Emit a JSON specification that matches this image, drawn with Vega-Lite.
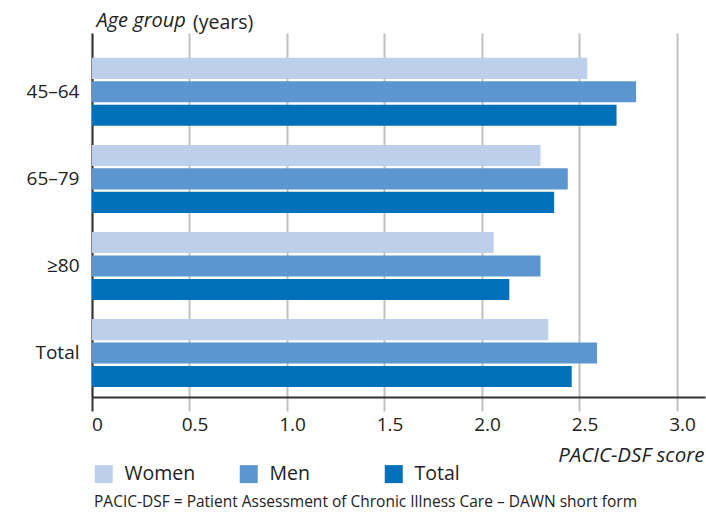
{
  "$schema": "https://vega.github.io/schema/vega-lite/v6.json",
  "width": 613,
  "height": 364,
  "autosize": {"type": "none"},
  "padding": {"left": 92, "top": 33, "right": 1, "bottom": 115},
  "background": "white",
  "title": {
    "text": "(years)",
    "anchor": "start",
    "frame": "group",
    "orient": "top",
    "dx": 101,
    "dy": 38,
    "baseline": "alphabetic",
    "fontSize": 19.5,
    "fontWeight": "normal",
    "fontStyle": "normal",
    "color": "#222222",
    "offset": 0
  },
  "config": {
    "font": "Open Sans",
    "view": {"stroke": null}
  },
  "data": {
    "values": [
      {"age": "45–64", "sex": "Women", "score": 2.54},
      {"age": "45–64", "sex": "Men", "score": 2.79},
      {"age": "45–64", "sex": "Total", "score": 2.69},
      {"age": "65–79", "sex": "Women", "score": 2.30},
      {"age": "65–79", "sex": "Men", "score": 2.44},
      {"age": "65–79", "sex": "Total", "score": 2.37},
      {"age": "≥80", "sex": "Women", "score": 2.06},
      {"age": "≥80", "sex": "Men", "score": 2.30},
      {"age": "≥80", "sex": "Total", "score": 2.14},
      {"age": "Total", "sex": "Women", "score": 2.34},
      {"age": "Total", "sex": "Men", "score": 2.59},
      {"age": "Total", "sex": "Total", "score": 2.46}
    ]
  },
  "mark": {"type": "bar"},
  "encoding": {
    "y": {
      "field": "age",
      "type": "nominal",
      "sort": ["45–64", "65–79", "≥80", "Total"],
      "scale": {"paddingInner": 0.22, "paddingOuter": 0.2, "align": 0.714},
      "axis": {
        "title": "Age group",
        "titleAngle": 0,
        "titleX": 4,
        "titleY": -7,
        "titleAlign": "left",
        "titleBaseline": "alphabetic",
        "titleFontSize": 20,
        "titleFontStyle": "italic",
        "titleFontWeight": "normal",
        "titleColor": "#222222",
        "ticks": false,
        "labelPadding": 13,
        "labelFontSize": 19,
        "labelColor": "#222222",
        "domainColor": "#333333",
        "domainWidth": 2,
        "grid": false
      }
    },
    "yOffset": {
      "field": "sex",
      "type": "nominal",
      "sort": ["Women", "Men", "Total"],
      "scale": {"paddingInner": 0.1, "paddingOuter": 0}
    },
    "x": {
      "field": "score",
      "type": "quantitative",
      "scale": {"domain": [0, 3.1436], "nice": false, "zero": true},
      "axis": {
        "title": "PACIC-DSF score",
        "titleX": 612,
        "titleY": 64,
        "titleAlign": "right",
        "titleBaseline": "alphabetic",
        "titleFontSize": 20.5,
        "titleFontStyle": "italic",
        "titleFontWeight": "normal",
        "titleColor": "#222222",
        "values": [0, 0.5, 1, 1.5, 2, 2.5, 3],
        "labelExpr": "datum.value == 0 ? '0' : format(datum.value, '.1f')",
        "labelFlush": false,
        "labelOffset": 5,
        "labelFontSize": 19,
        "labelColor": "#222222",
        "labelPadding": 4,
        "tickSize": 14,
        "tickWidth": 2,
        "tickColor": {"condition": {"test": "datum.value == 0", "value": "#333333"}, "value": "#c0c0c0"},
        "grid": true,
        "gridColor": "#c0c0c0",
        "gridWidth": 2,
        "domainColor": "#333333",
        "domainWidth": 2
      }
    },
    "color": {
      "field": "sex",
      "type": "nominal",
      "sort": ["Women", "Men", "Total"],
      "scale": {"domain": ["Women", "Men", "Total"], "range": ["#bdd0eb", "#5c96d0", "#0070ba"]},
      "legend": {
        "orient": "none",
        "legendX": 2,
        "legendY": 431,
        "direction": "horizontal",
        "columns": 3,
        "gridAlign": "all",
        "columnPadding": 43,
        "symbolType": "square",
        "symbolSize": 324,
        "symbolStrokeWidth": 0,
        "labelFontSize": 19.5,
        "labelColor": "#222222",
        "labelOffset": 11,
        "title": "PACIC-DSF = Patient Assessment of Chronic Illness Care – DAWN short form",
        "titleOrient": "bottom",
        "titleAnchor": "start",
        "titleFontSize": 15.5,
        "titleFontWeight": "normal",
        "titleColor": "#222222",
        "titlePadding": 11,
        "titleLimit": 1000
      }
    }
  }
}
